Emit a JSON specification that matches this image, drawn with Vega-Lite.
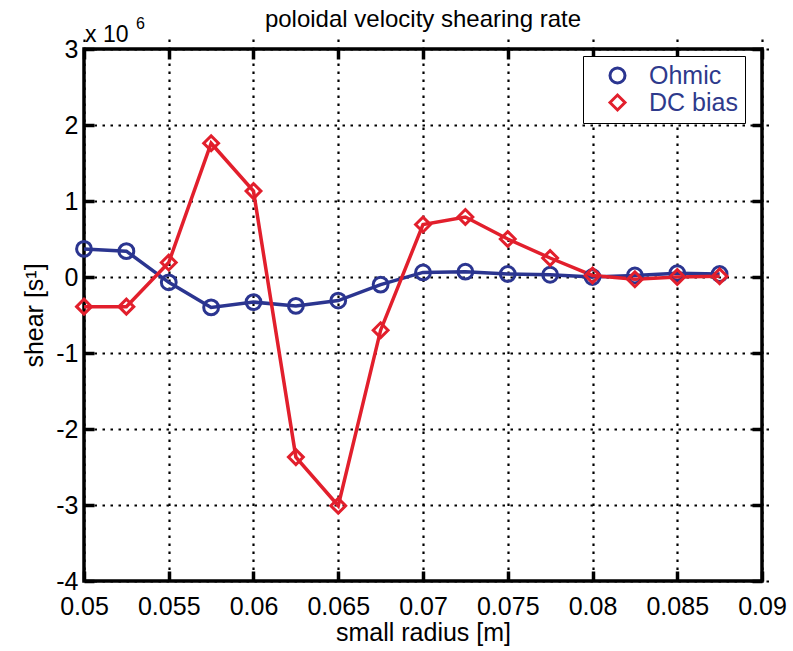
{
  "$schema": "https://vega.github.io/schema/vega-lite/v6.json",
  "autosize": "none",
  "width": 678,
  "height": 532,
  "padding": {"left": 84, "top": 49, "right": 31, "bottom": 70},
  "background": "white",
  "config": {
    "font": "Liberation Sans",
    "view": {"stroke": "black", "strokeWidth": 3.5},
    "axis": {
      "labelFont": "Liberation Sans",
      "titleFont": "Liberation Sans",
      "labelFontSize": 25,
      "titleFontSize": 25,
      "titleFontWeight": "normal",
      "labelColor": "black",
      "titleColor": "black",
      "labelFlush": false,
      "labelOverlap": false,
      "domain": false,
      "ticks": true,
      "tickColor": "black",
      "tickOpacity": 1,
      "tickWidth": 3.5,
      "tickSize": 10,
      "offset": -10,
      "gridColor": "black",
      "gridWidth": 2.2,
      "gridDash": [2.5, 5.5],
      "gridOpacity": 1
    }
  },
  "title": {
    "text": "poloidal velocity shearing rate",
    "fontSize": 24,
    "fontWeight": "normal",
    "font": "Liberation Sans",
    "color": "black",
    "offset": -16
  },
  "data": {
    "values": [
      {"series": "Ohmic", "r": 0.05, "shear": 0.37},
      {"series": "Ohmic", "r": 0.0525, "shear": 0.34},
      {"series": "Ohmic", "r": 0.055, "shear": -0.07},
      {"series": "Ohmic", "r": 0.0575, "shear": -0.40},
      {"series": "Ohmic", "r": 0.06, "shear": -0.33},
      {"series": "Ohmic", "r": 0.0625, "shear": -0.38},
      {"series": "Ohmic", "r": 0.065, "shear": -0.31},
      {"series": "Ohmic", "r": 0.0675, "shear": -0.10},
      {"series": "Ohmic", "r": 0.07, "shear": 0.06},
      {"series": "Ohmic", "r": 0.0725, "shear": 0.07},
      {"series": "Ohmic", "r": 0.075, "shear": 0.04},
      {"series": "Ohmic", "r": 0.0775, "shear": 0.03},
      {"series": "Ohmic", "r": 0.08, "shear": 0.0},
      {"series": "Ohmic", "r": 0.0825, "shear": 0.02},
      {"series": "Ohmic", "r": 0.085, "shear": 0.05},
      {"series": "Ohmic", "r": 0.0875, "shear": 0.04},
      {"series": "DC bias", "r": 0.05, "shear": -0.39},
      {"series": "DC bias", "r": 0.0525, "shear": -0.39},
      {"series": "DC bias", "r": 0.055, "shear": 0.19},
      {"series": "DC bias", "r": 0.0575, "shear": 1.76},
      {"series": "DC bias", "r": 0.06, "shear": 1.13},
      {"series": "DC bias", "r": 0.0625, "shear": -2.37},
      {"series": "DC bias", "r": 0.065, "shear": -3.01},
      {"series": "DC bias", "r": 0.0675, "shear": -0.70},
      {"series": "DC bias", "r": 0.07, "shear": 0.69},
      {"series": "DC bias", "r": 0.0725, "shear": 0.79},
      {"series": "DC bias", "r": 0.075, "shear": 0.50},
      {"series": "DC bias", "r": 0.0775, "shear": 0.25},
      {"series": "DC bias", "r": 0.08, "shear": 0.02},
      {"series": "DC bias", "r": 0.0825, "shear": -0.03},
      {"series": "DC bias", "r": 0.085, "shear": 0.0},
      {"series": "DC bias", "r": 0.0875, "shear": 0.01}
    ]
  },
  "resolve": {"axis": {"x": "independent", "y": "independent"}},
  "layer": [
    {
      "mark": {"type": "line", "strokeWidth": 3.5},
      "encoding": {
        "x": {
          "field": "r", "type": "quantitative",
          "scale": {"domain": [0.05, 0.09], "nice": false, "zero": false},
          "axis": {"values": [0.05, 0.055, 0.06, 0.065, 0.07, 0.075, 0.08, 0.085, 0.09], "format": ".3~f", "title": "small radius [m]", "labelPadding": 13, "titlePadding": 1, "grid": true, "ticks": true, "tickColor": "black", "tickSize": 10}
        },
        "y": {
          "field": "shear", "type": "quantitative",
          "scale": {"domain": [-4, 3], "nice": false, "zero": false},
          "axis": {"values": [-4, -3, -2, -1, 0, 1, 2, 3], "labelExpr": "'' + datum.value", "title": "shear [s¹]", "labelPadding": 6, "titlePadding": 8, "grid": true, "ticks": true, "tickColor": "black", "tickSize": 10}
        },
        "color": {
          "field": "series", "type": "nominal",
          "scale": {"domain": ["Ohmic", "DC bias"], "range": ["#2b3590", "#e21f2c"]},
          "legend": {
            "title": null,
            "orient": "none",
            "legendX": 499,
            "legendY": 7,
            "fillColor": "white",
            "strokeColor": "black",
            "padding": 7,
            "labelFontSize": 25,
            "labelFont": "Liberation Sans",
            "labelColor": "#2e3a8c",
            "symbolSize": 225,
            "symbolStrokeWidth": 3,
            "symbolOpacity": 1,
            "symbolOffset": 15,
            "labelOffset": 19,
            "rowPadding": 0
          }
        }
      }
    },
    {
      "mark": {"type": "point", "filled": false, "strokeWidth": 3, "size": 220, "opacity": 1},
      "encoding": {
        "x": {"field": "r", "type": "quantitative", "axis": {"orient": "top", "labels": false, "title": null, "grid": false, "ticks": true, "tickColor": "black", "tickSize": 10, "values": [0.05, 0.055, 0.06, 0.065, 0.07, 0.075, 0.08, 0.085, 0.09]}},
        "y": {"field": "shear", "type": "quantitative", "axis": {"orient": "right", "labels": false, "title": null, "grid": false, "ticks": true, "tickColor": "black", "tickSize": 10, "values": [-4, -3, -2, -1, 0, 1, 2, 3]}},
        "color": {
          "field": "series", "type": "nominal",
          "scale": {"domain": ["Ohmic", "DC bias"], "range": ["#2b3590", "#e21f2c"]},
          "legend": {
            "title": null,
            "orient": "none",
            "legendX": 499,
            "legendY": 7,
            "fillColor": "white",
            "strokeColor": "black",
            "padding": 7,
            "labelFontSize": 25,
            "labelFont": "Liberation Sans",
            "labelColor": "#2e3a8c",
            "symbolSize": 225,
            "symbolStrokeWidth": 3,
            "symbolOpacity": 1,
            "symbolOffset": 15,
            "labelOffset": 19,
            "rowPadding": 0
          }
        },
        "shape": {
          "field": "series", "type": "nominal",
          "scale": {"domain": ["Ohmic", "DC bias"], "range": ["circle", "diamond"]},
          "legend": null
        }
      }
    },
    {
      "data": {"values": [{"r": 0.05, "shear": 3, "t": "x 10"}]},
      "mark": {"type": "text", "align": "left", "baseline": "alphabetic", "fontSize": 23, "dx": 1, "dy": -7, "font": "Liberation Sans"},
      "encoding": {
        "x": {"field": "r", "type": "quantitative", "axis": null},
        "y": {"field": "shear", "type": "quantitative", "axis": null},
        "text": {"field": "t"}
      }
    },
    {
      "data": {"values": [{"r": 0.05, "shear": 3, "t": "6"}]},
      "mark": {"type": "text", "align": "left", "baseline": "alphabetic", "fontSize": 16, "dx": 52, "dy": -20, "font": "Liberation Sans"},
      "encoding": {
        "x": {"field": "r", "type": "quantitative", "axis": null},
        "y": {"field": "shear", "type": "quantitative", "axis": null},
        "text": {"field": "t"}
      }
    }
  ]
}
